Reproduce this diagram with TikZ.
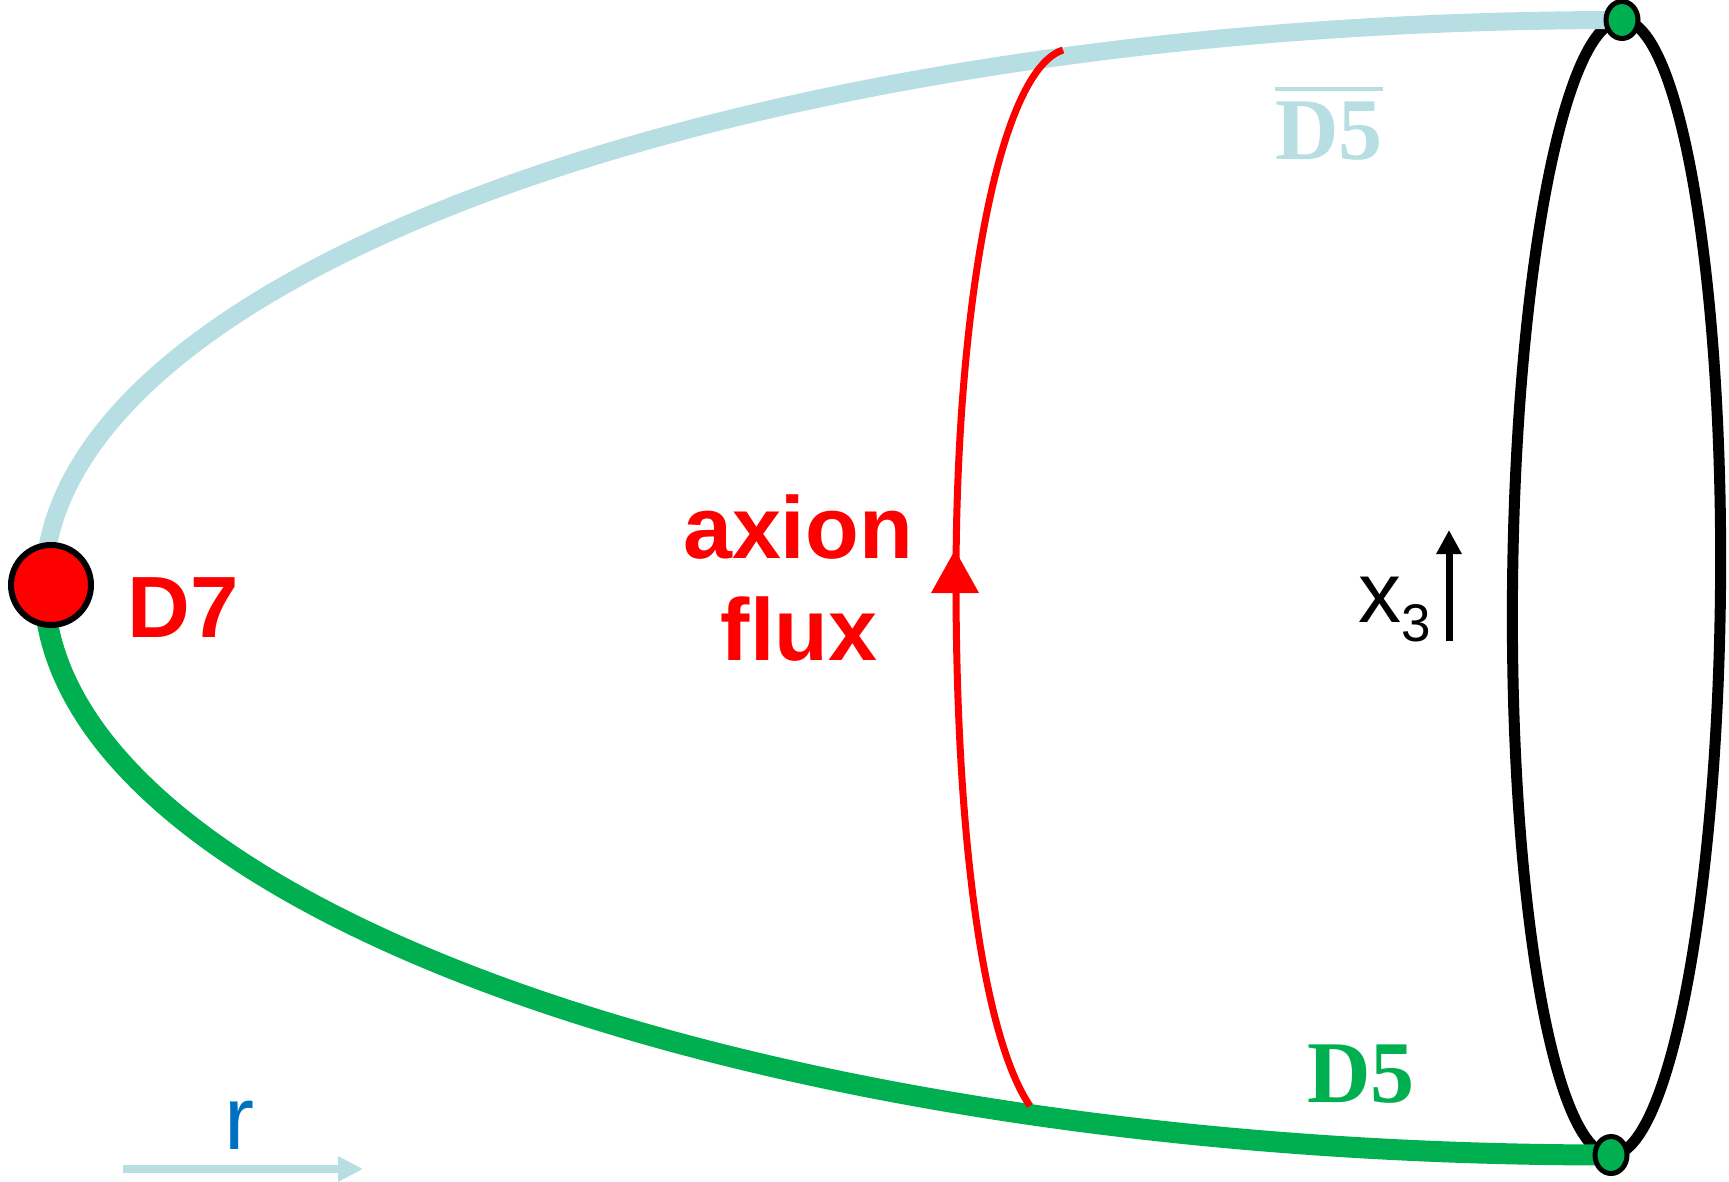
\documentclass[tikz,border=0pt]{standalone}
\usepackage{fontspec}
\setsansfont{Liberation Sans}
\newfontfamily\dfivefont{Liberation Serif}
\usetikzlibrary{arrows.meta,shapes.geometric,backgrounds}
\definecolor{barblue}{RGB}{183,222,226}
\definecolor{dgreen}{RGB}{0,176,80}
\definecolor{rblue}{RGB}{0,112,192}

\begin{document}
\begin{tikzpicture}[x=1pt, y=-1pt, line cap=butt, line join=round,
    endpt/.style={ellipse, draw=black, line width=5pt, fill=dgreen, inner sep=0pt,
                  minimum width=32pt, minimum height=37pt},
    lbl/.style={anchor=base, inner sep=0pt}]
  \useasboundingbox (0,0) rectangle (1729,1182);

  %% ════ 端点（D7 与两个 D5 端）════
  \node[circle, draw=black, line width=6pt, fill=red, inner sep=0pt, minimum size=80pt] (d7) at (51,585) {};
  \node[endpt] (ptop) at (1622,20) {};
  \node[endpt] (pbot) at (1611,1155) {};

  %% 红色回路的两端落在两条膜的中线上
  \coordinate (fluxtop) at (1063,50);
  \coordinate (fluxbot) at (1030,1106);

  %% ════ 底层：圆环、两条膜（各为四分之一椭圆，顶点藏在 D7 下）、红色回路 ════
  \begin{scope}[on background layer]
    \draw[line width=11pt, rotate around={-0.55:(1616.5,587.5)}] (1616.5,587.5) ellipse [x radius=104, y radius=567.5];
    \draw[line width=18pt, barblue] (ptop.center) arc[start angle=270, end angle=180, x radius=1578, y radius=565];
    \draw[line width=21pt, dgreen] (pbot.center) arc[start angle=90, end angle=180, x radius=1567, y radius=570];
    \draw[line width=7pt, red] (fluxtop) .. controls (1000,70) and (956,300) .. (956,580) .. controls (956,850) and (985,1040) .. (fluxbot);
  \end{scope}
  \fill[red] (955,550) -- (979,593) -- (931,593) -- cycle;

  %% ════ 坐标轴箭头 ════
  \coordinate (x3a) at (1449,641);
  \coordinate (x3b) at (1449,530);
  \draw[line width=7pt, -{Triangle[length=24pt,width=24pt]}] (x3a) -- (x3b);
  \coordinate (ra) at (123,1169);
  \coordinate (rb) at (363,1169);
  \draw[line width=8.5pt, barblue, -{Triangle[length=25pt,width=24pt]}] (ra) -- (rb);

  %% ════ 标签 ════
  \node[lbl, red, font=\fontsize{87}{87}\sffamily\bfseries] (d7lbl) at (183,637) {D7};   % box(132,575,102,62)
  \node[lbl, red, font=\fontsize{88}{88}\sffamily\bfseries] (axion) at (798,558) {axion};
  \node[lbl, red, font=\fontsize{88}{88}\sffamily\bfseries] (flux) at (799,660) {flux};
  \node[lbl, anchor=base west, font=\fontsize{86}{86}\sffamily] (x3lbl) at (1358,622) {x\raisebox{-19pt}{\fontsize{53}{53}\selectfont 3}};
  \node[lbl, barblue, font=\fontsize{88}{88}\dfivefont\bfseries] (d5bar) at (1329,160) {D5};
  \draw[barblue, line width=4pt] ([yshift=13pt]d5bar.north west) -- ([yshift=13pt]d5bar.north east);
  \node[lbl, dgreen, font=\fontsize{88}{88}\dfivefont\bfseries] (d5) at (1361,1102) {D5};
  \node[lbl, rblue, font=\fontsize{90}{90}\sffamily] (rlbl) at (239,1149) {r};
\end{tikzpicture}
\end{document}
